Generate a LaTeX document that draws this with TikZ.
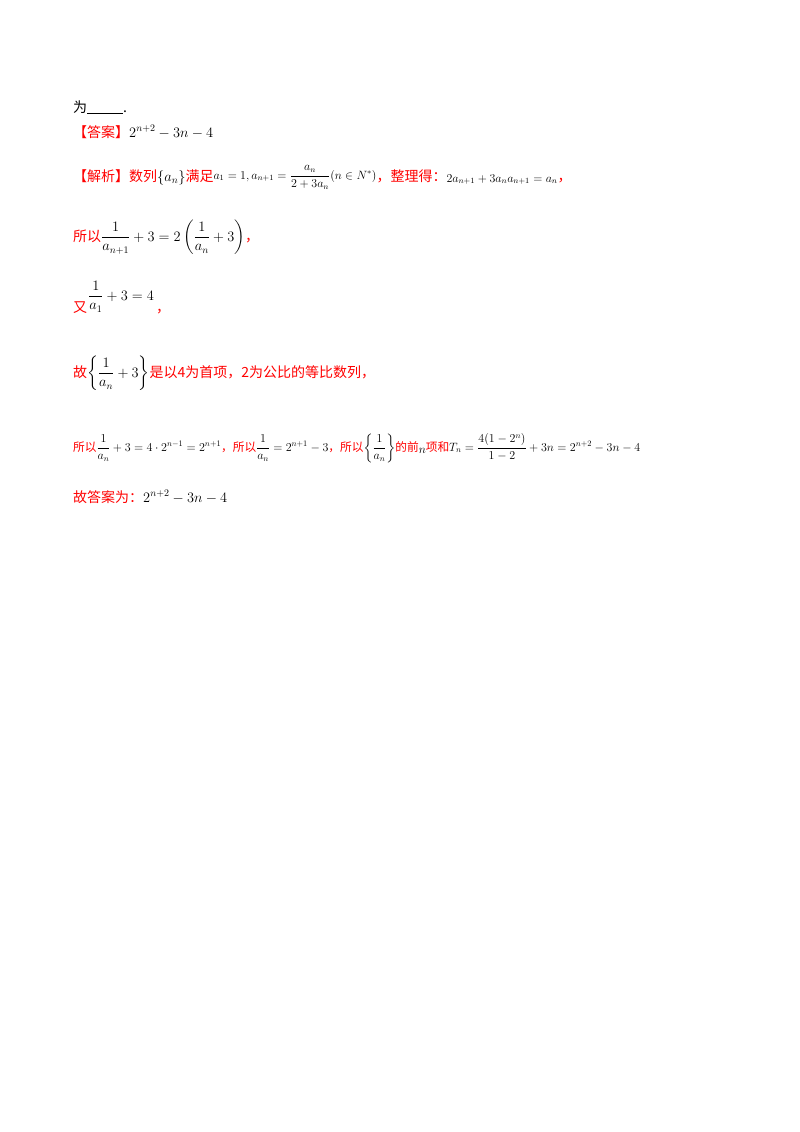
\documentclass[tikz,border=0pt]{standalone}
\usepackage{amsmath}
\usepackage{graphicx}
\usepackage{fontspec}
\newfontfamily\cjk{Noto Sans CJK SC}
\definecolor{ansred}{RGB}{255,0,0}
\begin{document}
\begin{tikzpicture}[x=1pt,y=-1pt,
  txt/.style={anchor=base west,inner sep=0pt,font=\fontsize{14}{16}\selectfont\cjk},
  red/.style={txt,text=ansred}]
\useasboundingbox (0,0) rectangle (800,1132);
\node[txt] (l0) at (73,112) {为\rule[-2pt]{36pt}{0.6pt}.};
\node[red] (l1) at (73,137) {【答案】\textcolor{black}{$2^{n+2}-3n-4$}};
\node[red] (l2) at (73,181) {【解析】数列\textcolor{black}{$\{a_n\}$}满足\textcolor{black}{\raisebox{2pt}{\fontsize{12}{14}\selectfont$a_1=1,a_{n+1}=\dfrac{a_n}{2+3a_n}(n\in N^*)$}}，整理得：\textcolor{black}{\raisebox{-1pt}{\fontsize{12}{14}\selectfont$2a_{n+1}+3a_na_{n+1}=a_n$}}，};
\node[red] (l3) at (73,241) {所以\textcolor{black}{$\dfrac{1}{a_{n+1}}+3=2\left(\dfrac{1}{a_n}+3\right)$}，};
\node[red] (l4a) at (73,312) {又};
\node[txt] (l4b) at (88,300) {$\dfrac{1}{a_1}+3=4$};
\node[red] (l4c) at (156,312) {，};
\node[red] (l5) at (73,377) {故\textcolor{black}{$\left\{\dfrac{1}{a_n}+3\right\}$}是以4为首项，2为公比的等比数列，};
\node[red,anchor=base west] (l6) at (73,451) {\resizebox{567pt}{!}{所以\textcolor{black}{$\dfrac{1}{a_n}+3=4\cdot2^{n-1}=2^{n+1}$}，所以\textcolor{black}{$\dfrac{1}{a_n}=2^{n+1}-3$}，所以\textcolor{black}{$\left\{\dfrac{1}{a_n}\right\}$}的前\textcolor{black}{\raisebox{-3pt}{$n$}}项和\textcolor{black}{$T_n=\dfrac{4(1-2^n)}{1-2}+3n=2^{n+2}-3n-4$}}};
\node[red] (l7) at (73,502) {故答案为：\textcolor{black}{$2^{n+2}-3n-4$}};
\end{tikzpicture}
\end{document}
